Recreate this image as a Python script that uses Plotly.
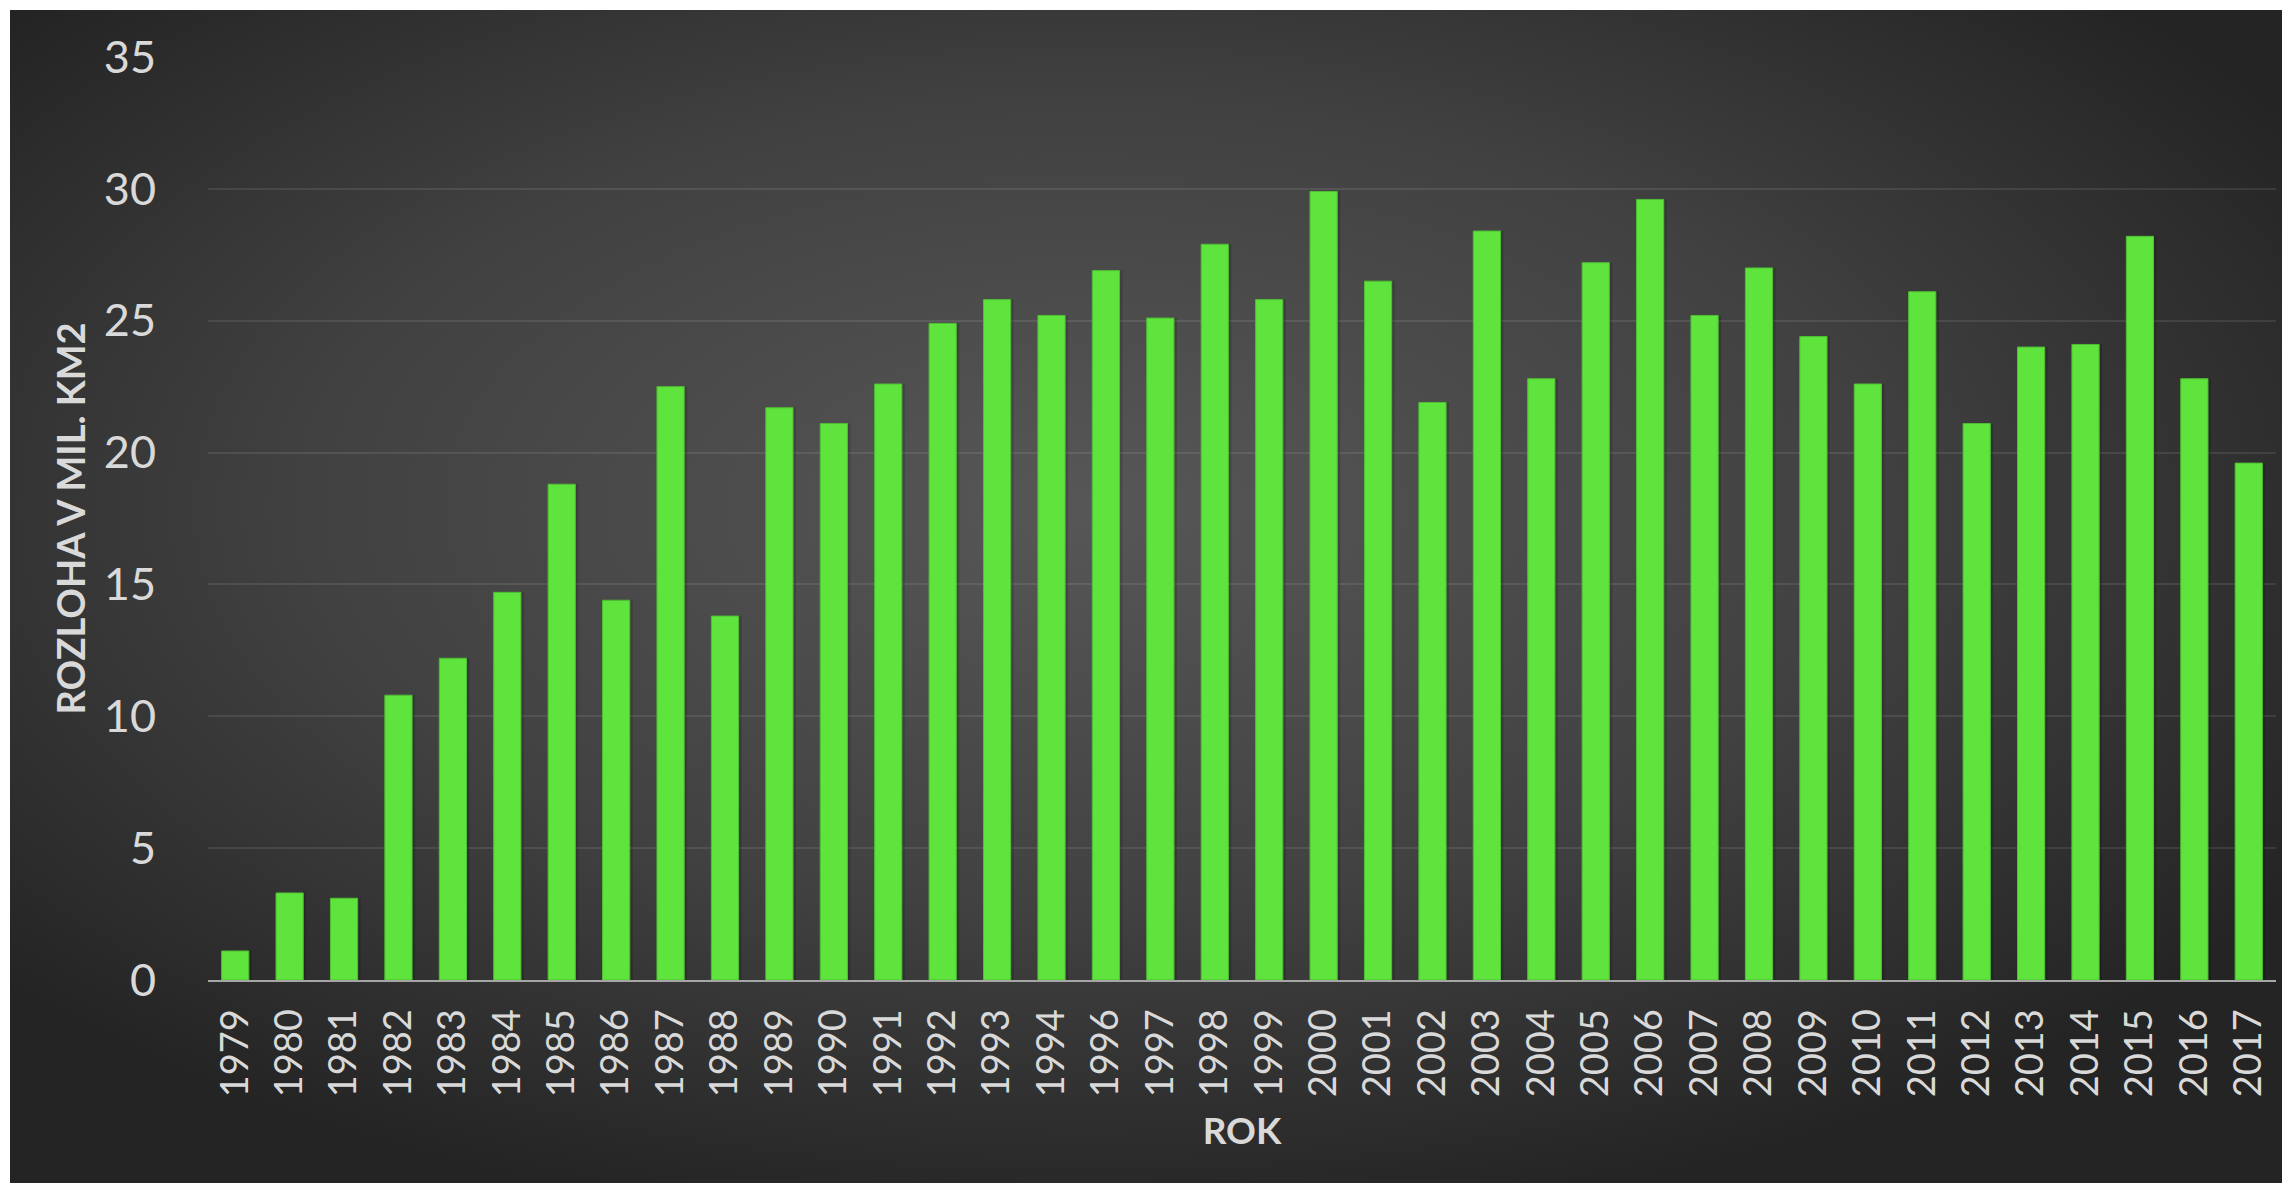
import base64
import plotly.graph_objects as go

# data
roky = ["1979", "1980", "1981", "1982", "1983", "1984", "1985", "1986", "1987", "1988",
        "1989", "1990", "1991", "1992", "1993", "1994", "1996", "1997", "1998", "1999",
        "2000", "2001", "2002", "2003", "2004", "2005", "2006", "2007", "2008", "2009",
        "2010", "2011", "2012", "2013", "2014", "2015", "2016", "2017"]
rozloha = [1.1, 3.3, 3.1, 10.8, 12.2, 14.7, 18.8, 14.4, 22.5, 13.8,
           21.7, 21.1, 22.6, 24.9, 25.8, 25.2, 26.9, 25.1, 27.9, 25.8,
           29.9, 26.5, 21.9, 28.4, 22.8, 27.2, 29.6, 25.2, 27.0, 24.4,
           22.6, 26.1, 21.1, 24.0, 24.1, 28.2, 22.8, 19.6]
y_ticks = [0, 5, 10, 15, 20, 25, 30, 35]

# stranka ma okraj 8 px, proto je vse posunuto o 8 px doleva/nahoru
W, H = 2290, 1183
L, T = 200, 49
pw, ph = 2068, 923
R = W - L - pw
B = H - T - ph

# pozadi - radialni gradient jako svg obrazek
svg = f"""<svg xmlns="http://www.w3.org/2000/svg" width="{W}" height="{H}" viewBox="0 0 {W} {H}" preserveAspectRatio="none">
<defs><radialGradient id="g" cx="0.47" cy="0.42" r="0.62">
<stop offset="0" stop-color="#575757"/><stop offset="0.55" stop-color="#414141"/><stop offset="1" stop-color="#242424"/>
</radialGradient></defs>
<rect x="0" y="0" width="{W}" height="{H}" fill="#ffffff"/>
<rect x="2" y="2" width="{W-2}" height="{H-2}" fill="url(#g)"/>
</svg>"""
bg = "data:image/svg+xml;base64," + base64.b64encode(svg.encode()).decode()

fig = go.Figure()

# jemny stin sloupcu
fig.add_trace(go.Bar(
    x=roky, y=rozloha,
    marker=dict(color="rgba(0,0,0,0.16)", line=dict(width=0)),
    width=0.55, offset=-0.245,
    hoverinfo="skip", showlegend=False
))

fig.add_trace(go.Bar(
    x=roky, y=rozloha,
    marker=dict(color="#5fe33d", line=dict(color="#4fbf33", width=1)),
    width=0.5, offset=-0.25,
    showlegend=False
))

fig.update_layout(
    width=W, height=H,
    margin=dict(l=L, r=R, t=T, b=B),
    paper_bgcolor="white",
    plot_bgcolor="rgba(0,0,0,0)",
    barmode="overlay",
    font=dict(family="Lato", color="#d9d9d9"),
    images=[dict(
        source=bg, xref="paper", yref="paper",
        x=-L / pw, y=(ph + T) / ph,
        sizex=W / pw, sizey=H / ph,
        xanchor="left", yanchor="top",
        sizing="stretch", layer="below"
    )],
)

fig.update_xaxes(
    type="category",
    tickangle=-90,
    tickfont=dict(size=38, color="#d9d9d9"),
    ticklabelstandoff=12,
    showgrid=False,
    showline=True, linecolor="#a6a6a6", linewidth=2,
    ticks="",
    title=dict(text="<b>ROK</b>", font=dict(size=37, color="#d9d9d9"), standoff=22),
    automargin=False,
)

fig.update_yaxes(
    range=[0, 35],
    tickvals=y_ticks,
    tickfont=dict(size=45, color="#d9d9d9"),
    ticklabelstandoff=51,
    showgrid=True, gridcolor="rgba(255,255,255,0.09)", gridwidth=2,
    zeroline=False,
    ticks="",
    title=dict(text="<b>ROZLOHA V MIL. KM2</b>", font=dict(size=38, color="#d9d9d9"), standoff=6),
    automargin=False,
)

fig.write_html("out.html")
